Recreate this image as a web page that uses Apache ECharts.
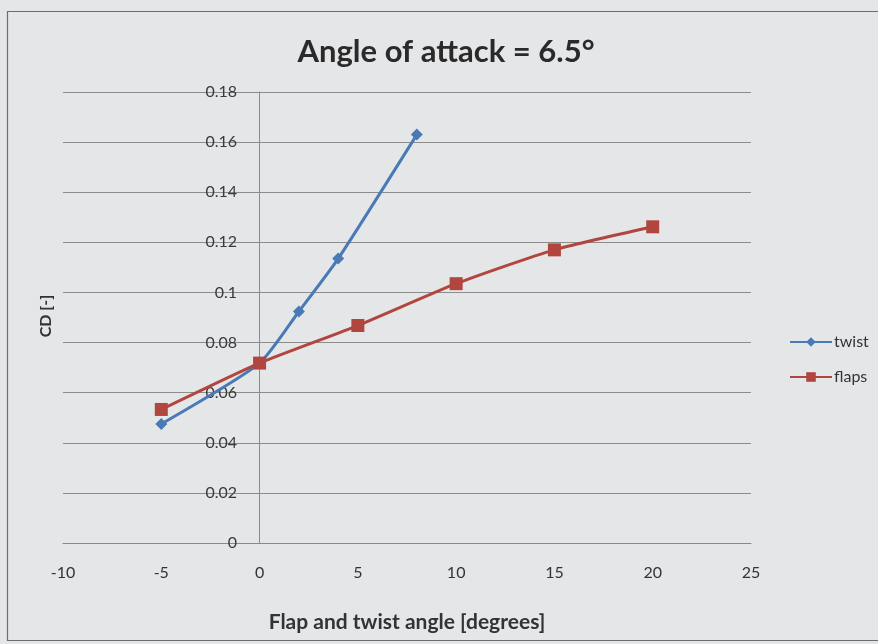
<!DOCTYPE html>
<html>
<head>
<meta charset="utf-8">
<script src="https://cdn.jsdelivr.net/npm/echarts@6/dist/echarts.min.js"></script>
<style>
  html, body { margin: 0; padding: 0; background: #e5e6e8; }
  #chart { width: 878px; height: 644px; }
</style>
</head>
<body>
<div id="chart"></div>
<script>
// Drag coefficient vs. flap / twist deflection at an angle of attack of 6.5 degrees
const twistAngle = [-5, 0, 2, 4, 8];
const twistCD    = [0.0475, 0.0718, 0.0924, 0.1135, 0.1630];
const flapAngle  = [-5, 0, 5, 10, 15, 20];
const flapCD     = [0.0533, 0.0718, 0.0868, 0.1035, 0.1170, 0.1262];
const xTicks = { min: -10, max: 25, step: 5 };
const yTicks = { min: 0, max: 0.18, step: 0.02 };

const pairs = (xs, ys) => xs.map((x, i) => [x, ys[i]]);
const font = 'Lato, "Open Sans", sans-serif';

const chart = echarts.init(document.getElementById('chart'));
chart.setOption({
  backgroundColor: '#e5e6e8',
  animation: false,
  title: {
    text: 'Angle of attack = 6.5°',
    left: 441, top: 31, textAlign: 'center',
    textStyle: { fontFamily: font, fontSize: 31, fontWeight: 'bold', color: '#2a2a2a' }
  },
  graphic: [
    {
      type: 'rect', silent: true,
      shape: { x: 7.5, y: 11.5, width: 900, height: 629 },
      style: { fill: 'none', stroke: '#6e6e6e', lineWidth: 1.2 }
    },
    {
      // y-axis title, drawn reading bottom-to-top
      type: 'text', silent: true, x: 46, y: 316, rotation: Math.PI / 2,
      style: {
        text: 'CD [-]', fontFamily: font, fontSize: 16, fontWeight: 'bold', fill: '#333',
        align: 'center', verticalAlign: 'middle'
      }
    }
  ],
  legend: {
    orient: 'vertical', left: 784, top: 329, itemGap: 19,
    itemWidth: 42, itemHeight: 12,
    textStyle: { fontFamily: font, fontSize: 16, lineHeight: 16, color: '#333', padding: [0, 0, 0, -3] },
    data: ['twist', 'flaps']
  },
  grid: { left: 63, right: 127, top: 92, bottom: 101, containLabel: false, outerBoundsMode: 'none' },
  xAxis: {
    type: 'value', min: xTicks.min, max: xTicks.max, interval: xTicks.step,
    name: 'Flap and twist angle [degrees]', nameLocation: 'middle', nameGap: 69,
    nameTextStyle: { fontFamily: font, fontSize: 21, fontWeight: 'bold', color: '#333' },
    axisLine: { show: true, lineStyle: { color: '#8a8a8a', width: 1 } },
    axisTick: { show: false },
    axisLabel: { margin: 22, fontFamily: font, fontSize: 16, color: '#333' },
    splitLine: { show: false }
  },
  yAxis: {
    type: 'value', min: yTicks.min, max: yTicks.max, interval: yTicks.step,
    axisLine: { show: true, onZero: true, lineStyle: { color: '#8a8a8a', width: 1 } },
    axisTick: { show: false },
    axisLabel: {
      // labels sit just left of the x = 0 axis line
      margin: -174, fontFamily: font, fontSize: 16, color: '#3a3a3a',
      formatter: v => String(+v.toFixed(2))
    },
    splitLine: { show: true, lineStyle: { color: '#8c8c8c', width: 1 } }
  },
  series: [
    {
      name: 'twist', type: 'line', data: pairs(twistAngle, twistCD),
      smooth: 0.2, symbol: 'diamond', symbolSize: 12,
      itemStyle: { color: '#4a7ab6' }, lineStyle: { width: 3, color: '#4a7ab6' }
    },
    {
      name: 'flaps', type: 'line', data: pairs(flapAngle, flapCD),
      smooth: 0.2, symbol: 'rect', symbolSize: 13,
      itemStyle: { color: '#b1463f' }, lineStyle: { width: 3, color: '#b1463f' }
    }
  ]
});
</script>
</body>
</html>
